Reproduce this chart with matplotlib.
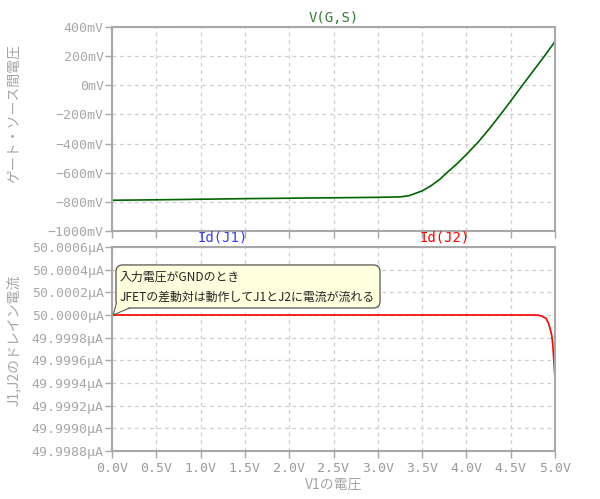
#!/usr/bin/env python3
import matplotlib
matplotlib.use("Agg")
import matplotlib.pyplot as plt
from matplotlib.patches import FancyBboxPatch, Polygon

# V1 sweep [V] and V(G,S) [mV]
vin_gs = [0.0, 0.5, 1.0, 1.5, 2.0, 2.5, 3.0, 3.25, 3.35, 3.5, 3.6, 3.7, 3.78,
          3.9, 4.0, 4.13, 4.25, 4.38, 4.5, 4.62, 4.75, 4.88, 5.0]
vgs_mv = [-789, -786, -782, -778, -775, -772, -769, -766, -758, -725, -690, -645,
          -600, -535, -475, -392, -305, -205, -108, -10, 95, 200, 300]

# V1 sweep [V] and Id(J2) [uA]
vin_id = [0.0, 1.0, 2.0, 3.0, 4.0, 4.5, 4.8, 4.85, 4.9, 4.925, 4.945, 4.963,
          4.975, 4.985, 4.993, 5.0]
id_j2 = [50.0, 50.0, 50.0, 50.0, 50.0, 50.0, 50.0, 49.99999, 49.99997, 49.99993,
         49.99988, 49.99982, 49.99974, 49.99962, 49.99952, 49.99944]

x_ticks = [0.0, 0.5, 1.0, 1.5, 2.0, 2.5, 3.0, 3.5, 4.0, 4.5, 5.0]
x_labels = ["0.0V", "0.5V", "1.0V", "1.5V", "2.0V", "2.5V", "3.0V", "3.5V",
            "4.0V", "4.5V", "5.0V"]
top_ticks = [400, 200, 0, -200, -400, -600, -800, -1000]
top_labels = ["400mV", "200mV", "0mV", "\u2212200mV", "\u2212400mV", "\u2212600mV",
              "\u2212800mV", "\u22121000mV"]
bot_ticks = [50.0006, 50.0004, 50.0002, 50.0, 49.9998, 49.9996, 49.9994,
             49.9992, 49.999, 49.9988]
bot_labels = ["50.0006\u00b5A", "50.0004\u00b5A", "50.0002\u00b5A", "50.0000\u00b5A",
              "49.9998\u00b5A", "49.9996\u00b5A", "49.9994\u00b5A", "49.9992\u00b5A",
              "49.9990\u00b5A", "49.9988\u00b5A"]

GRAY = "#9a9a9a"
SPINE = "#a8a8a8"
JP = ["Noto Sans CJK JP", "DejaVu Sans"]
MONO = "DejaVu Sans Mono"

fig = plt.figure(figsize=(6.0, 4.99), dpi=100)
ax1 = fig.add_axes([112 / 600, 1 - 231 / 499, 443 / 600, 204 / 499])
ax2 = fig.add_axes([112 / 600, 1 - 451 / 499, 443 / 600, 204 / 499])


def style(ax, ticks, labels, lo, hi):
    ax.set_xlim(0, 5)
    ax.set_ylim(lo, hi)
    ax.set_xticks(x_ticks)
    ax.set_yticks(ticks)
    ax.set_yticklabels(labels, fontfamily=MONO, fontsize=9.5, color=GRAY)
    ax.grid(True, color="#cfcfcf", linestyle=(0, (3, 3)), linewidth=0.9)
    ax.tick_params(colors=SPINE, length=5, width=1, pad=1)
    for s in ax.spines.values():
        s.set_color(SPINE)
        s.set_linewidth(1.5)


style(ax1, top_ticks, top_labels, -1000, 400)
ax1.tick_params(axis="x", labelbottom=False)
ax1.plot(vin_gs, vgs_mv, color="#006400", linewidth=1.2)
ax1.set_ylabel("ゲート・ソース間電圧", fontfamily=JP, fontsize=10, color="#a5a5a5")
ax1.yaxis.set_label_coords(-0.206, 0.574)
ax1.text(2.5, 1.012, "V(G,S)", transform=ax1.get_xaxis_transform(), ha="center",
         va="bottom", fontfamily=MONO, fontsize=10, color="#2e7d32")

style(ax2, bot_ticks, bot_labels, 49.9988, 50.0006)
ax2.set_xticklabels(x_labels, fontfamily=MONO, fontsize=9.5, color=GRAY)
ax2.tick_params(axis="x", pad=3)
ax2.plot(vin_id, id_j2, color="#ff0000", linewidth=1.2)
ax2.set_ylabel("J1,J2のドレイン電流", fontfamily=JP, fontsize=10, color="#a5a5a5")
ax2.yaxis.set_label_coords(-0.206, 0.544)
ax2.set_xlabel("V1の電圧", fontfamily=JP, fontsize=10, color="#a5a5a5", labelpad=2)
ax2.text(1.25, 1.012, "Id(J1)", transform=ax2.get_xaxis_transform(), ha="center",
         va="bottom", fontfamily=MONO, fontsize=10, color="#3b3bff")
ax2.text(3.75, 1.012, "Id(J2)", transform=ax2.get_xaxis_transform(), ha="center",
         va="bottom", fontfamily=MONO, fontsize=10, color="#ff0000")

# callout box
box = FancyBboxPatch((0.009, 0.701), 0.596, 0.211, transform=ax2.transAxes,
                     boxstyle="round,pad=0,rounding_size=0.015",
                     facecolor="#ffffde", edgecolor="#555555", linewidth=0.9,
                     zorder=5, mutation_aspect=2.2)
ax2.add_patch(box)
tail = Polygon([(0.0095, 0.72), (0.003, 0.668), (0.04, 0.7015)], closed=False,
               transform=ax2.transAxes, facecolor="#ffffde", edgecolor="#555555",
               linewidth=0.9, zorder=6)
ax2.add_patch(tail)
ax2.add_patch(Polygon([(0.0105, 0.718), (0.005, 0.672), (0.038, 0.703)],
                      transform=ax2.transAxes, facecolor="#ffffde",
                      edgecolor="none", zorder=7))
ax2.text(0.018, 0.852, "入力電圧がGNDのとき", transform=ax2.transAxes,
         fontfamily=JP, fontsize=8.6, color="#222222", va="center", zorder=8)
ax2.text(0.018, 0.755, "JFETの差動対は動作してJ1とJ2に電流が流れる",
         transform=ax2.transAxes, fontfamily=JP, fontsize=8.6, color="#222222",
         va="center", zorder=8)

fig.savefig("out.png", dpi=100)
